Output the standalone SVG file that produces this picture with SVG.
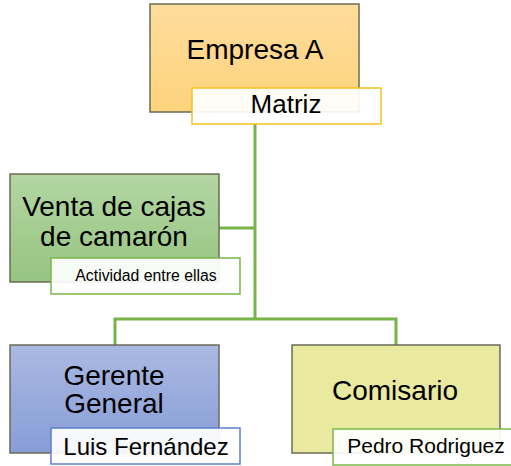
<svg xmlns="http://www.w3.org/2000/svg" width="511" height="466" viewBox="0 0 511 466">
<defs>
<linearGradient id="gOrange" x1="0" y1="0" x2="0" y2="1"><stop offset="0" stop-color="#fedc9c"/><stop offset="1" stop-color="#fdd37c"/></linearGradient>
<linearGradient id="gGreen" x1="0" y1="0" x2="0" y2="1"><stop offset="0" stop-color="#b3d6a2"/><stop offset="1" stop-color="#96c482"/></linearGradient>
<linearGradient id="gBlue" x1="0" y1="0" x2="0" y2="1"><stop offset="0" stop-color="#abb9e2"/><stop offset="1" stop-color="#879dd7"/></linearGradient>
</defs>
<style>
.main{stroke:#6b6b55;stroke-width:1.5}
.sub{fill:#ffffff;fill-opacity:0.92;stroke-width:1.5}
text{font-family:"Liberation Sans",Arial,sans-serif;fill:#000;text-anchor:middle}
.big{font-size:28px}
.conn{fill:none;stroke:#77b347;stroke-width:3}
</style>
<g id="connectors">
<path class="conn" d="M255 124 V319"/>
<path class="conn" d="M219 228 H255"/>
<path class="conn" d="M115 345 V319 H396 V345"/>
</g>
<g id="empresa">
<rect class="main" x="150" y="4" width="209" height="108" fill="url(#gOrange)" stroke="#7d6a48"/>
<text class="big" x="255" y="59">Empresa A</text>
<rect class="sub" x="192" y="88" width="189" height="36" stroke="#f5c21e"/>
<text x="286" y="113" font-size="26">Matriz</text>
</g>
<g id="venta">
<rect class="main" x="10" y="174" width="209" height="108" fill="url(#gGreen)" stroke="#5e6e52"/>
<text class="big" x="114" y="216">Venta de cajas</text>
<text class="big" x="114" y="246">de camarón</text>
<rect class="sub" x="51" y="258" width="189" height="36" stroke="#7ab648"/>
<text x="146" y="281" font-size="15.8">Actividad entre ellas</text>
</g>
<g id="gerente">
<rect class="main" x="10" y="345" width="209" height="108" fill="url(#gBlue)" stroke="#4f5a72"/>
<text class="big" x="114" y="385">Gerente</text>
<text class="big" x="114" y="413">General</text>
<rect class="sub" x="51" y="428" width="189" height="36" stroke="#5b7fcc"/>
<text x="146" y="455" font-size="24">Luis Fernández</text>
</g>
<g id="comisario">
<rect class="main" x="292" y="345" width="208" height="108" fill="#e9e9a0" stroke="#6e6e50"/>
<text class="big" x="395" y="400">Comisario</text>
<rect class="sub" x="333" y="429" width="189" height="36" stroke="#7ab648"/>
<text x="426" y="453" font-size="21">Pedro Rodriguez</text>
</g>
</svg>
